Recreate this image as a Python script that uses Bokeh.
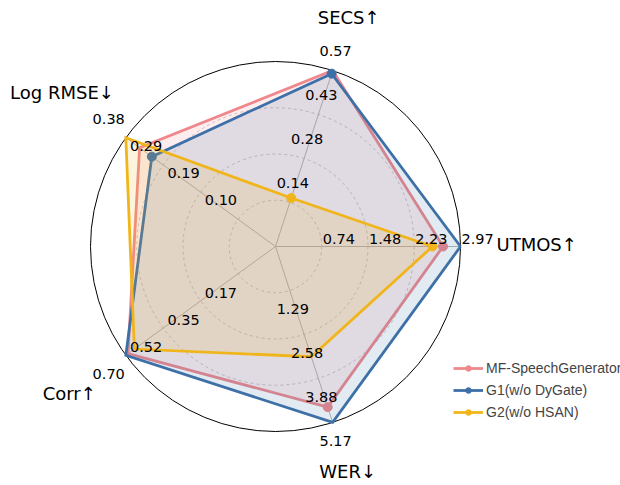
import numpy as np
from bokeh.plotting import figure
from bokeh.models import Range1d, Legend, LegendItem
from bokeh.core.properties import value
from bokeh.embed import file_html
from bokeh.resources import INLINE

# ---- data ----
metrics = ["UTMOS↑", "SECS↑", "Log RMSE↓", "Corr↑", "WER↓"]
axis_max = [2.97, 0.57, 0.38, 0.70, 5.17]
tick_labels = [
    ["0.74", "1.48", "2.23", "2.97"],
    ["0.14", "0.28", "0.43", "0.57"],
    ["0.10", "0.19", "0.29", "0.38"],
    ["0.17", "0.35", "0.52", "0.70"],
    ["1.29", "2.58", "3.88", "5.17"],
]
series_names = ["MF-SpeechGenerator", "G1(w/o DyGate)", "G2(w/o HSAN)"]
mf_values = [2.69, 0.57, 0.345, 0.69, 4.72]
g1_values = [2.97, 0.56, 0.314, 0.70, 5.17]
g2_values = [2.52, 0.157, 0.38, 0.66, 3.24]
marker_idx = [[0, 4], [1, 2], [0, 1]]

# ---- style ----
colors = ["#EF888C", "#3E70A8", "#F1B51C"]
R = 185.0
W, H = 620, 485
cx, cy = 275, 239  # center in pixels from left / bottom

tick_off = [(1, 8, "left"), (3, 19.5, "center"), (-1, 19, "right"),
            (-1, -19, "right"), (3, -18.5, "center")]
label_off = [(36, 2, "left"), (16, 53, "center"), (-12, 45, "right"),
             (-30, -38.5, "right"), (15, -49, "center")]

p = figure(width=W, height=H, x_range=Range1d(-cx, W - cx), y_range=Range1d(-cy, H - cy),
           x_axis_type=None, y_axis_type=None, toolbar_location=None,
           output_backend="svg", min_border=0, outline_line_color=None)
p.xgrid.visible = False
p.ygrid.visible = False

n = len(metrics)
theta = np.array([2 * np.pi * k / n for k in range(n)])
ct, st = np.cos(theta), np.sin(theta)

# grid rings and spokes
fr = [0.25, 0.5, 0.75]
p.circle(x=[0] * 3, y=[0] * 3, radius=[f * R for f in fr], fill_color=None,
         line_color="#b8b8b8", line_dash="3 3", line_width=0.8)
p.segment(x0=[0] * n, y0=[0] * n, x1=R * ct, y1=R * st, line_color="#b4b4b4", line_width=1)
p.circle(x=[0], y=[0], radius=[R], fill_color=None, line_color="black", line_width=1)

items = []
for vals, name, col, mi in zip([mf_values, g1_values, g2_values], series_names, colors, marker_idx):
    r = np.array(vals) / np.array(axis_max) * R
    xs, ys = r * ct, r * st
    xc, yc = list(xs) + [xs[0]], list(ys) + [ys[0]]
    p.patch(xc, yc, fill_color=col, fill_alpha=0.15, line_color=None)
    lr = p.line(xc, yc, line_color=col, line_width=2.8, line_join="miter")
    mr = p.scatter([xs[i] for i in mi], [ys[i] for i in mi], size=9, fill_color=col, line_color=col)
    items.append(LegendItem(label=name, renderers=[lr, mr]))

# tick labels
tx, ty, tt, ta = [], [], [], []
for k in range(n):
    dx, dy, al = tick_off[k]
    for j, lab in enumerate(tick_labels[k]):
        f = (j + 1) / 4
        tx.append(f * R * ct[k] + dx)
        ty.append(f * R * st[k] + dy)
        tt.append(lab)
        ta.append(al)
p.text(x=tx, y=ty, text=tt, text_align=ta, text_baseline="middle",
       text_font=value("DejaVu Sans"), text_font_size="14.5px", text_color="black")

# axis labels
lx = [R * ct[k] + label_off[k][0] for k in range(n)]
ly = [R * st[k] + label_off[k][1] for k in range(n)]
la = [label_off[k][2] for k in range(n)]
p.text(x=lx, y=ly, text=metrics, text_align=la, text_baseline="middle",
       text_font=value("DejaVu Sans"), text_font_size="18px", text_color="black")

legend = Legend(items=items, location=(453, 65), glyph_width=30, glyph_height=14,
                label_height=14, spacing=6, label_standoff=3, padding=0, margin=0,
                border_line_alpha=0, background_fill_alpha=0,
                label_text_font="Liberation Sans", label_text_font_size="14px")
p.add_layout(legend)

open("out.html", "w").write(file_html(p, INLINE))
